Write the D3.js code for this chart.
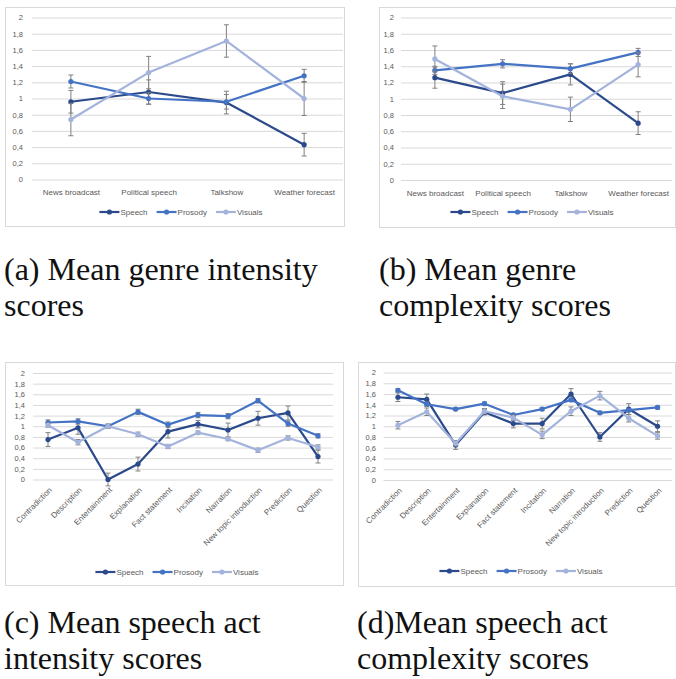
<!DOCTYPE html>
<html>
<head>
<meta charset="utf-8">
<script src="https://cdn.jsdelivr.net/npm/d3@7"></script>
<style>
  body { margin: 0; background: #fff; }
  svg { display: block; }
  .axis text { font-family: "Liberation Sans", Arial, sans-serif; font-size: 7.5px; fill: #595959; }
  .x-axis text { font-size: 8px; }
  .axis .domain { display: none; }
  .y-axis line { stroke: #d9d9d9; }
  .x-axis line { display: none; }
  .legend text { font-family: "Liberation Sans", Arial, sans-serif; font-size: 8px; fill: #595959; }
  .caption { font-family: "Liberation Serif", "DejaVu Serif", serif; font-size: 32px; fill: #111; }
</style>
</head>
<body>
<svg id="chart" width="676" height="679"></svg>
<script>
// categories
const genres = ['News broadcast', 'Political speech', 'Talkshow', 'Weather forecast'];
const acts = ['Contradiction', 'Description', 'Entertainment', 'Explanation', 'Fact statement',
  'Incitation', 'Narration', 'New topic introduction', 'Prediction', 'Question'];
const seriesNames = ['Speech', 'Prosody', 'Visuals'];
const yTicks = [0, 0.2, 0.4, 0.6, 0.8, 1, 1.2, 1.4, 1.6, 1.8, 2];

// (a) genre intensity
const aSpeech = [0.96, 1.08, 0.95, 0.43];
const aSpeechErr = [0.14, 0.15, 0.14, 0.14];
const aProsody = [1.21, 1.00, 0.96, 1.28];
const aProsodyErr = [0.08, 0.07, 0.09, 0.08];
const aVisuals = [0.74, 1.32, 1.71, 1.00];
const aVisualsErr = [0.20, 0.20, 0.20, 0.21];

// (b) genre complexity
const bSpeech = [1.26, 1.07, 1.30, 0.70];
const bSpeechErr = [0.13, 0.14, 0.13, 0.14];
const bProsody = [1.35, 1.43, 1.37, 1.57];
const bProsodyErr = [0.05, 0.05, 0.06, 0.05];
const bVisuals = [1.49, 1.03, 0.87, 1.42];
const bVisualsErr = [0.16, 0.15, 0.15, 0.15];

// (c) speech act intensity
const cSpeech = [0.75, 0.97, 0.00, 0.29, 0.90, 1.04, 0.93, 1.15, 1.25, 0.43];
const cSpeechErr = [0.13, 0.12, 0.12, 0.13, 0.12, 0.07, 0.13, 0.13, 0.13, 0.12];
const cProsody = [1.07, 1.09, 1.00, 1.27, 1.03, 1.21, 1.19, 1.48, 1.05, 0.82];
const cProsodyErr = [0.05, 0.05, 0.04, 0.05, 0.05, 0.05, 0.05, 0.04, 0.05, 0.04];
const cVisuals = [1.02, 0.70, 1.00, 0.85, 0.62, 0.88, 0.76, 0.55, 0.78, 0.61];
const cVisualsErr = [0.04, 0.05, 0.04, 0.04, 0.04, 0.03, 0.03, 0.04, 0.04, 0.04];

// (d) speech act complexity
const dSpeech = [1.54, 1.50, 0.65, 1.26, 1.05, 1.05, 1.60, 0.80, 1.32, 1.00];
const dSpeechErr = [0.08, 0.10, 0.08, 0.05, 0.08, 0.10, 0.10, 0.08, 0.10, 0.10];
const dProsody = [1.67, 1.41, 1.32, 1.42, 1.21, 1.32, 1.49, 1.25, 1.30, 1.35];
const dProsodyErr = [0.03, 0.04, 0.03, 0.03, 0.03, 0.03, 0.03, 0.03, 0.03, 0.03];
const dVisuals = [1.02, 1.27, 0.68, 1.28, 1.16, 0.84, 1.28, 1.57, 1.15, 0.82];
const dVisualsErr = [0.07, 0.07, 0.05, 0.05, 0.05, 0.07, 0.08, 0.08, 0.07, 0.06];

const colors = ['#2b4a8b', '#4472c4', '#a3b3dc'];

class LinePanel {
  constructor(_config, _series) {
    this.config = _config;
    this.series = _series;
    this.initVis();
  }

  initVis() {
    let vis = this;
    const c = vis.config;
    vis.g = d3.select('#chart').append('g');

    // chart frame
    vis.g.append('rect')
      .attr('x', c.box[0] + 0.5).attr('y', c.box[1] + 0.5)
      .attr('width', c.box[2]).attr('height', c.box[3])
      .attr('fill', 'none').attr('stroke', '#d9d9d9');

    vis.xScale = d3.scalePoint()
      .domain(c.categories)
      .range([c.left, c.right])
      .padding(0.5);

    vis.yScale = d3.scaleLinear()
      .domain([0, 2])
      .range([c.bottom, c.top]);

    vis.yAxis = d3.axisLeft(vis.yScale)
      .tickValues(yTicks)
      .tickSize(-(c.right - c.left))
      .tickPadding(c.left - c.yLabelX)
      .tickFormat(d => String(+d.toFixed(1)).replace('.', ','));

    vis.xAxis = d3.axisBottom(vis.xScale)
      .tickSize(0)
      .tickPadding(10);

    vis.g.append('g')
      .attr('class', 'axis y-axis')
      .attr('transform', `translate(${c.left},0)`)
      .call(vis.yAxis);

    const xg = vis.g.append('g')
      .attr('class', 'axis x-axis')
      .attr('transform', `translate(0,${c.bottom})`)
      .call(vis.xAxis);

    if (c.rotate) {
      xg.selectAll('text')
        .attr('y', 0)
        .attr('dy', '0.35em')
        .attr('text-anchor', 'end')
        .attr('transform', 'translate(2,9) rotate(-45)');
    }

    vis.renderVis();
  }

  renderVis() {
    let vis = this;
    const cats = vis.config.categories;

    vis.series.forEach((s, si) => {
      const pts = s.values.map((v, i) => ({ cat: cats[i], v: v, e: s.err[i] }));
      const sg = vis.g.append('g');

      // error bars
      const eb = sg.selectAll('.err')
        .data(pts)
        .join('g')
        .attr('class', 'err')
        .attr('stroke', '#808080')
        .attr('stroke-width', 1);
      eb.append('line')
        .attr('x1', d => vis.xScale(d.cat)).attr('x2', d => vis.xScale(d.cat))
        .attr('y1', d => vis.yScale(d.v - d.e)).attr('y2', d => vis.yScale(d.v + d.e));
      [-1, 1].forEach(sign => {
        eb.append('line')
          .attr('x1', d => vis.xScale(d.cat) - 2.5).attr('x2', d => vis.xScale(d.cat) + 2.5)
          .attr('y1', d => vis.yScale(d.v + sign * d.e)).attr('y2', d => vis.yScale(d.v + sign * d.e));
      });

      const line = d3.line()
        .x(d => vis.xScale(d.cat))
        .y(d => vis.yScale(d.v));

      sg.append('path')
        .datum(pts)
        .attr('d', line)
        .attr('fill', 'none')
        .attr('stroke', colors[si])
        .attr('stroke-width', 2.2)
        .attr('stroke-linejoin', 'round');

      sg.selectAll('.point')
        .data(pts)
        .join('circle')
        .attr('class', 'point')
        .attr('r', 2.6)
        .attr('cx', d => vis.xScale(d.cat))
        .attr('cy', d => vis.yScale(d.v))
        .attr('fill', colors[si]);
    });

    // legend, centred on legendCx
    const lg = vis.g.append('g').attr('class', 'legend');
    let x = 0;
    seriesNames.forEach((name, i) => {
      const item = lg.append('g').attr('transform', `translate(${x},0)`);
      item.append('line').attr('x1', 0).attr('x2', 20).attr('y1', 0).attr('y2', 0)
        .attr('stroke', colors[i]).attr('stroke-width', 2.2);
      item.append('circle').attr('cx', 10).attr('r', 2.6).attr('fill', colors[i]);
      const t = item.append('text').attr('x', 21).attr('dy', '0.35em').text(name);
      x += 21 + t.node().getComputedTextLength() + 9;
    });
    const w = x - 9;
    lg.attr('transform', `translate(${vis.config.legendCx - w / 2},${vis.config.legendY})`);

    // caption
    const cap = d3.select('#chart').append('text')
      .attr('class', 'caption')
      .attr('x', vis.config.capX)
      .attr('y', vis.config.capY);
    vis.config.caption.forEach((ln, i) => {
      cap.append('tspan').attr('x', vis.config.capX).attr('dy', i === 0 ? 0 : 36).text(ln);
    });
  }
}

const mk = (v1, e1, v2, e2, v3, e3) => [
  { values: v1, err: e1 }, { values: v2, err: e2 }, { values: v3, err: e3 }
];

new LinePanel({
  categories: genres, box: [5, 7, 339, 219],
  left: 32, right: 343, top: 17.5, bottom: 179.5, yLabelX: 23,
  legendCx: 181, legendY: 212,
  capX: 4, capY: 280, caption: ['(a) Mean genre intensity', 'scores']
}, mk(aSpeech, aSpeechErr, aProsody, aProsodyErr, aVisuals, aVisualsErr));

new LinePanel({
  categories: genres, box: [379, 7, 296, 220],
  left: 401, right: 672, top: 17.5, bottom: 180, yLabelX: 394,
  legendCx: 532, legendY: 212,
  capX: 379, capY: 280, caption: ['(b) Mean genre', 'complexity scores']
}, mk(bSpeech, bSpeechErr, bProsody, bProsodyErr, bVisuals, bVisualsErr));

new LinePanel({
  categories: acts, box: [5, 362, 338, 223], rotate: true,
  left: 33, right: 333, top: 373, bottom: 479.5, yLabelX: 25,
  legendCx: 177, legendY: 572,
  capX: 4, capY: 633, caption: ['(c) Mean speech act', 'intensity scores']
}, mk(cSpeech, cSpeechErr, cProsody, cProsodyErr, cVisuals, cVisualsErr));

new LinePanel({
  categories: acts, box: [358, 362, 317, 224], rotate: true,
  left: 383.5, right: 672, top: 372.5, bottom: 480, yLabelX: 376,
  legendCx: 521, legendY: 571,
  capX: 357, capY: 633, caption: ['(d)Mean speech act', 'complexity scores']
}, mk(dSpeech, dSpeechErr, dProsody, dProsodyErr, dVisuals, dVisualsErr));
</script>
</body>
</html>
